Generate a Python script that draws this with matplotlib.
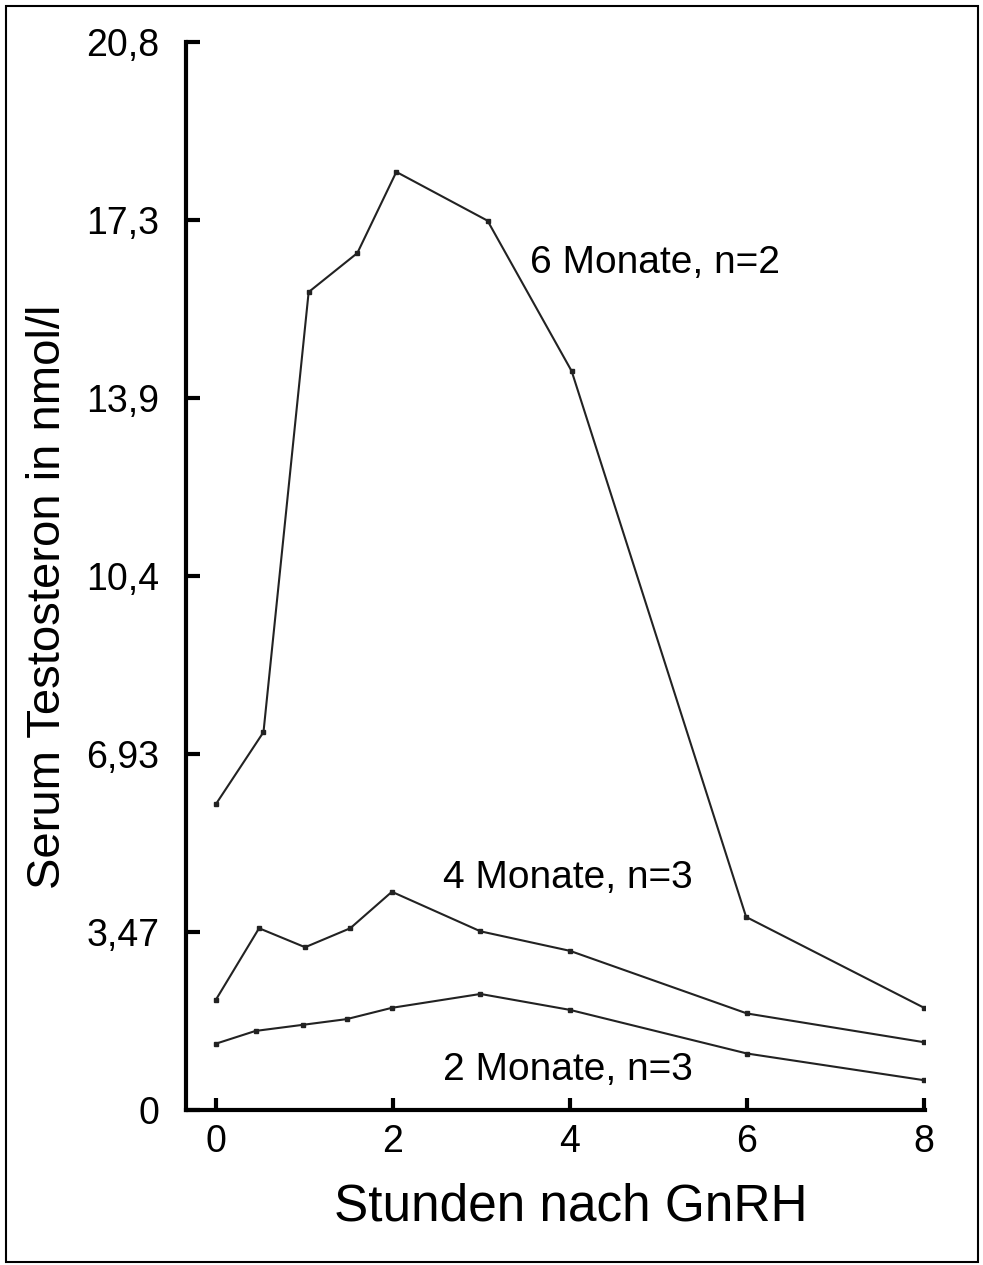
import matplotlib.pyplot as plt
from matplotlib.patches import Rectangle

plt.rcParams['font.family'] = ['Liberation Sans', 'DejaVu Sans']

# Zeitpunkte (Stunden nach GnRH) und Werte (nmol/l)
hours_6m = [0, 0.54, 1.05, 1.6, 2.04, 3.07, 4.02, 5.99, 8]
testo_6m = [5.95, 7.36, 15.93, 16.69, 18.27, 17.32, 14.39, 3.76, 1.99]

hours_4m = [0, 0.49, 1.01, 1.52, 1.99, 2.99, 4.0, 6.0, 8]
testo_4m = [2.14, 3.54, 3.17, 3.54, 4.25, 3.48, 3.10, 1.88, 1.32]

hours_2m = [0, 0.45, 0.99, 1.48, 1.99, 2.99, 4.0, 6.0, 8]
testo_2m = [1.29, 1.54, 1.66, 1.77, 1.99, 2.26, 1.95, 1.10, 0.58]

y_ticks = [0, 20.8 / 6, 2 * 20.8 / 6, 3 * 20.8 / 6, 4 * 20.8 / 6, 5 * 20.8 / 6, 20.8]
y_labels = ['0', '3,47', '6,93', '10,4', '13,9', '17,3', '20,8']
x_ticks = [0, 2, 4, 6, 8]

fig = plt.figure(figsize=(9.83, 12.65), dpi=100)
ax = fig.add_axes([186 / 983, 155 / 1265, 739 / 983, 1068 / 1265])

for h, t in [(hours_6m, testo_6m), (hours_4m, testo_4m), (hours_2m, testo_2m)]:
    ax.plot(h, t, color='#222222', linewidth=1.5, marker='s', markersize=3.5)

ax.set_xlim(-0.335, 8.01)
ax.set_ylim(0, 20.8)

for side in ['top', 'right']:
    ax.spines[side].set_visible(False)
for side in ['left', 'bottom']:
    ax.spines[side].set_linewidth(3)

ax.set_yticks(y_ticks)
ax.set_yticklabels(y_labels)
ax.set_xticks(x_ticks)
ax.tick_params(axis='y', direction='in', length=10, width=3, pad=19, labelsize=27)
ax.tick_params(axis='x', direction='in', length=9, width=3, pad=10, labelsize=27)

# Beschriftungen der Kurven
ax.text(3.55, 16.30, '6 Monate, n=2', fontsize=28, va='baseline', ha='left')
ax.text(2.567, 4.32, '4 Monate, n=3', fontsize=28, va='baseline', ha='left')
ax.text(2.567, 0.584, '2 Monate, n=3', fontsize=28, va='baseline', ha='left')

fig.text(571 / 983, 1 - 1207 / 1265, 'Stunden nach GnRH', fontsize=37, ha='center', va='center')
fig.text(48 / 983, 1 - 597 / 1265, 'Serum Testosteron in nmol/l', fontsize=34,
         rotation=90, ha='center', va='center')

# Rahmen um die Abbildung
fig.add_artist(Rectangle((6 / 983, 3 / 1265), 972 / 983, 1256 / 1265, fill=False,
                         edgecolor='black', linewidth=1.5, transform=fig.transFigure))

fig.savefig('out.png', dpi=100)
